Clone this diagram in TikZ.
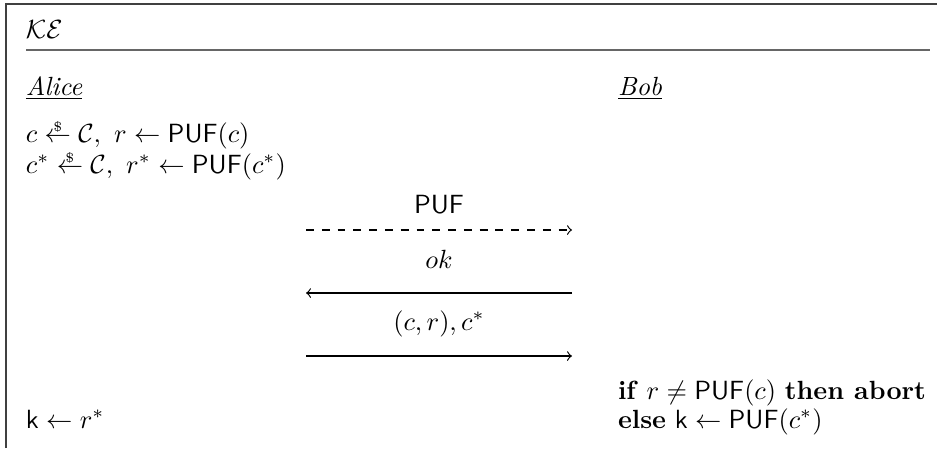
\documentclass[tikz,border=0pt]{standalone}
\usepackage{amsmath}
\usetikzlibrary{arrows}
\newcommand{\smp}{\mathrel{\overset{\smash{\raisebox{-0.4ex}{\tiny\$}}}{\leftarrow}}}
\begin{document}
\begin{tikzpicture}[x=0.38pt,y=-0.38pt,
  txt/.style={anchor=base west,inner sep=0pt,outer sep=0pt},
  lbl/.style={anchor=base,inner sep=0pt,outer sep=0pt},
  frame/.style={line width=0.8pt,black!75},
  msg/.style={line width=0.45pt,-to}]
\useasboundingbox (0,0) rectangle (937,448);
\draw[frame] (6,448) -- (6,4) -- (937,4);
\node[txt] (title) at (26,38) {$\mathcal{KE}$};
\draw[frame,black!60] (26,50) coordinate (s1) -- (930,50) coordinate (s2);
\node[txt] (alice) at (26,95) {\underline{\smash{\textit{Alice}}}};
\node[txt] (bob) at (618,95) {\underline{\smash{\textit{Bob}}}};
\node[txt] (r1) at (26,142) {$c \smp \mathcal{C},\ r \leftarrow \mathsf{PUF}(c)$};
\node[txt] (r2) at (26,173) {$c^* \smp \mathcal{C},\ r^* \leftarrow \mathsf{PUF}(c^*)$};
\coordinate (a1l) at (306,230); \coordinate (a1r) at (572,230);
\coordinate (a2l) at (306,293); \coordinate (a2r) at (572,293);
\coordinate (a3l) at (306,356); \coordinate (a3r) at (572,356);
\node[lbl] (m1) at (439,213) {$\mathsf{PUF}$};
\draw[msg,dashed] (a1l) -- (a1r);
\node[lbl] (m2) at (439,268) {$ok$};
\draw[msg] (a2r) -- (a2l);
\node[lbl] (m3) at (439,330) {$(c,r),c^*$};
\draw[msg] (a3l) -- (a3r);
\node[txt] (b1) at (618,399) {\textbf{if} $r \neq \mathsf{PUF}(c)$ \textbf{then abort}};
\node[txt] (b2) at (618,428) {\textbf{else} $\mathsf{k} \leftarrow \mathsf{PUF}(c^*)$};
\node[txt] (a3) at (26,428) {$\mathsf{k} \leftarrow r^*$};
\end{tikzpicture}
\end{document}
